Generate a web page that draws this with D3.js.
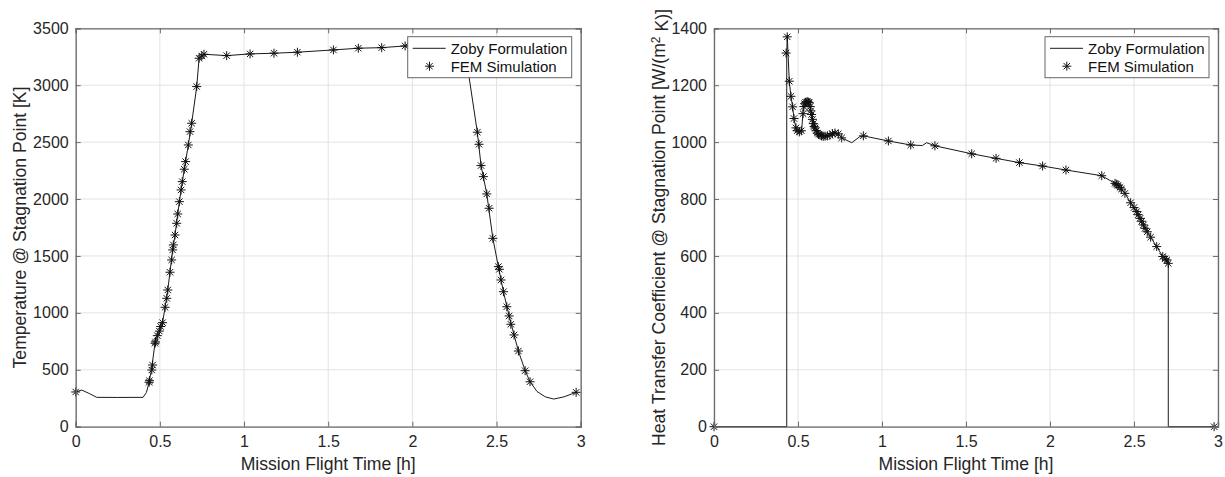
<!DOCTYPE html>
<html>
<head>
<meta charset="utf-8">
<script src="https://cdn.jsdelivr.net/npm/d3@7"></script>
<style>
	html, body { margin: 0; padding: 0; background: #fff; }
	svg { display: block; font-family: "Liberation Sans", Arial, Helvetica, sans-serif; }
	.tick text { fill: #262626; font-size: 16px; }
	.axis-label { fill: #262626; font-size: 17.6px; }
	.legend-text { fill: #111; font-size: 15px; }
</style>
</head>
<body>
<div id="chart"></div>
<script>

///////////////////////////////////////////////////////////////////////////
/////////////////////////////// The data //////////////////////////////////
///////////////////////////////////////////////////////////////////////////

//Shared x axis ticks - mission flight time in hours
var timeTicks = [0, 0.5, 1, 1.5, 2, 2.5, 3];

//Left panel - temperature at stagnation point [K]
var tempTicks = [0, 500, 1000, 1500, 2000, 2500, 3000, 3500];

//Zoby formulation curve [time, temperature]
var zobyTemp = [
	[0, 305], [0.036, 322], [0.08, 292], [0.125, 258], [0.25, 257], [0.40, 258], [0.42, 300],
	[0.437, 395], [0.452, 520], [0.471, 733], [0.485, 800], [0.497, 840], [0.505, 880], [0.516, 914],
	[0.531, 1049], [0.547, 1201], [0.560, 1357], [0.576, 1553], [0.590, 1684], [0.606, 1869],
	[0.626, 2080], [0.645, 2262], [0.669, 2475], [0.689, 2666], [0.719, 2988], [0.733, 3237],
	[0.749, 3257], [0.762, 3272], [0.897, 3260], [1.036, 3275], [1.178, 3281], [1.317, 3290],
	[1.531, 3310], [1.679, 3325], [1.818, 3330], [1.957, 3345], [2.15, 3355], [2.31, 3365],
	[2.337, 3070], [2.386, 2587], [2.408, 2294], [2.442, 2045], [2.478, 1655], [2.511, 1406],
	[2.541, 1186], [2.575, 973], [2.604, 806], [2.630, 665], [2.670, 492], [2.699, 395],
	[2.74, 310], [2.79, 262], [2.84, 243], [2.90, 262], [2.973, 302]
];

//FEM simulation points [time, temperature]
var femTemp = [
	[0, 305], [0.436, 390], [0.438, 404], [0.452, 498], [0.457, 542], [0.471, 733], [0.474, 745],
	[0.485, 800], [0.497, 840], [0.505, 880], [0.516, 914], [0.531, 1049], [0.541, 1128],
	[0.547, 1201], [0.560, 1357], [0.570, 1465], [0.576, 1553], [0.580, 1597], [0.590, 1684],
	[0.600, 1787], [0.606, 1869], [0.616, 1977], [0.626, 2080], [0.633, 2153], [0.645, 2262],
	[0.653, 2329], [0.669, 2475], [0.679, 2592], [0.689, 2666], [0.719, 2988], [0.733, 3237],
	[0.749, 3257], [0.762, 3272], [0.897, 3260], [1.036, 3275], [1.178, 3281], [1.317, 3290],
	[1.531, 3310], [1.679, 3325], [1.818, 3330], [1.957, 3345],
	[2.386, 2587], [2.396, 2481], [2.408, 2294], [2.422, 2197], [2.442, 2045], [2.456, 1919],
	[2.478, 1655], [2.511, 1406], [2.517, 1383], [2.527, 1289], [2.541, 1186], [2.561, 1054],
	[2.575, 973], [2.585, 900], [2.604, 806], [2.630, 665], [2.670, 492], [2.699, 395], [2.973, 302]
];

//Right panel - heat transfer coefficient at stagnation point [W/(m2 K)]
var htcTicks = [0, 200, 400, 600, 800, 1000, 1200, 1400];

//Zoby formulation curve [time, coefficient]
var zobyHtc = [
	[0, 0], [0.433, 0], [0.433, 1310], [0.436, 1376], [0.448, 1214], [0.458, 1161], [0.468, 1124],
	[0.476, 1083], [0.488, 1050], [0.508, 1036], [0.522, 1044], [0.532, 1120], [0.552, 1141],
	[0.567, 1138], [0.581, 1097], [0.601, 1050], [0.631, 1026], [0.661, 1021], [0.690, 1024],
	[0.720, 1032], [0.740, 1029], [0.760, 1015], [0.820, 998], [0.865, 1018], [0.889, 1022],
	[1.038, 1004], [1.171, 990], [1.24, 988], [1.266, 998], [1.315, 987], [1.534, 959],
	[1.679, 943], [1.818, 928], [1.956, 916], [2.095, 902], [2.308, 882], [2.387, 855],
	[2.417, 841], [2.446, 820], [2.480, 787], [2.516, 756], [2.536, 732], [2.556, 709],
	[2.579, 685], [2.599, 666], [2.635, 633], [2.671, 598], [2.695, 586], [2.704, 574],
	[2.704, 0], [2.977, 0]
];

//FEM simulation points [time, coefficient]
var femHtc = [
	[0, 0], [0.429, 1313], [0.436, 1370], [0.448, 1214], [0.458, 1161], [0.468, 1124], [0.476, 1083],
	[0.488, 1050], [0.495, 1040], [0.508, 1036], [0.520, 1040], [0.530, 1100], [0.535, 1125],
	[0.540, 1135], [0.545, 1140], [0.552, 1141], [0.558, 1142], [0.563, 1140], [0.567, 1138],
	[0.572, 1125], [0.576, 1110], [0.581, 1097], [0.586, 1080], [0.591, 1065], [0.596, 1055],
	[0.601, 1050], [0.608, 1040], [0.615, 1032], [0.622, 1028], [0.631, 1026], [0.640, 1022],
	[0.650, 1020], [0.661, 1021], [0.675, 1022], [0.690, 1024], [0.705, 1030], [0.720, 1032],
	[0.740, 1029], [0.760, 1015], [0.889, 1022], [1.038, 1004], [1.171, 990], [1.315, 987],
	[1.534, 959], [1.679, 943], [1.818, 928], [1.956, 916], [2.095, 902], [2.308, 882],
	[2.387, 855], [2.395, 852], [2.405, 848], [2.417, 841], [2.425, 835], [2.446, 820],
	[2.480, 787], [2.500, 770], [2.516, 756], [2.525, 745], [2.536, 732], [2.546, 722],
	[2.556, 709], [2.566, 697], [2.579, 685], [2.599, 666], [2.635, 633], [2.671, 598],
	[2.685, 590], [2.695, 586], [2.704, 574], [2.977, 0]
];

var legendLabels = ["Zoby Formulation", "FEM Simulation"];

///////////////////////////////////////////////////////////////////////////
//////////////////////////// Set up the SVG ///////////////////////////////
///////////////////////////////////////////////////////////////////////////

var width = 1225,
	height = 477;

var svg = d3.select("#chart")
	.append("svg")
	.attr("width", width)
	.attr("height", height);

//Both panels share the same vertical extent
var plotTop = 28.3,
	plotBottom = 426.7;

var axisColor = "#6a6a6a",
	gridColor = "#e3e3e3",
	lineColor = "#1a1a1a";

drawPanel({
	left: 75.7, right: 580.7,
	line: zobyTemp, points: femTemp,
	yDomain: [0, 3500], yTicks: tempTicks,
	label: "Temperature @ Stagnation Point [K]",
	labelX: 25.5
});

drawPanel({
	left: 714, right: 1218,
	line: zobyHtc, points: femHtc,
	yDomain: [0, 1400], yTicks: htcTicks,
	label: "Heat Transfer Coefficient @ Stagnation Point [W/(m",
	labelSup: "2",
	labelEnd: " K)]",
	labelX: 665
});

///////////////////////////////////////////////////////////////////////////
//////////////////////// Function to draw a panel /////////////////////////
///////////////////////////////////////////////////////////////////////////

function drawPanel(opt) {

	var w = opt.right - opt.left,
		h = plotBottom - plotTop;

	var x = d3.scaleLinear().domain([0, 3]).range([0, w]);
	var y = d3.scaleLinear().domain(opt.yDomain).range([h, 0]);

	var g = svg.append("g")
		.attr("transform", "translate(" + opt.left + "," + plotTop + ")");

	//Light grid lines
	g.append("g").selectAll("line.vgrid")
		.data(timeTicks)
		.enter().append("line")
		.attr("x1", function(d) { return x(d); })
		.attr("x2", function(d) { return x(d); })
		.attr("y1", 0).attr("y2", h)
		.style("stroke", gridColor);

	g.append("g").selectAll("line.hgrid")
		.data(opt.yTicks)
		.enter().append("line")
		.attr("y1", function(d) { return y(d); })
		.attr("y2", function(d) { return y(d); })
		.attr("x1", 0).attr("x2", w)
		.style("stroke", gridColor);

	//Clip so nothing spills over the box
	var clipId = "clip-" + Math.round(opt.left);
	g.append("clipPath").attr("id", clipId)
		.append("rect").attr("x", -6).attr("y", -6).attr("width", w + 12).attr("height", h + 12);

	//The Zoby line
	var line = d3.line()
		.x(function(d) { return x(d[0]); })
		.y(function(d) { return y(d[1]); });

	g.append("path")
		.datum(opt.line)
		.attr("clip-path", "url(#" + clipId + ")")
		.attr("d", line)
		.style("fill", "none")
		.style("stroke", lineColor)
		.style("stroke-width", 1);

	//FEM markers as asterisks
	g.append("g").selectAll(".fem")
		.data(opt.points)
		.enter().append("path")
		.attr("class", "fem")
		.attr("transform", function(d) { return "translate(" + x(d[0]) + "," + y(d[1]) + ")"; })
		.attr("d", asterisk(4.5))
		.style("fill", "none")
		.style("stroke", "#111")
		.style("stroke-width", 1);

	//Axes, ticks pointing inwards on all four sides
	var fmt = d3.format("");

	var xAxis = g.append("g")
		.attr("transform", "translate(0," + h + ")")
		.call(d3.axisBottom(x).tickValues(timeTicks).tickFormat(fmt).tickSize(-5).tickPadding(8.8));

	var yAxis = g.append("g")
		.call(d3.axisLeft(y).tickValues(opt.yTicks).tickFormat(fmt).tickSize(-5).tickPadding(7));

	var topAxis = g.append("g")
		.call(d3.axisTop(x).tickValues(timeTicks).tickFormat("").tickSize(-5));

	var rightAxis = g.append("g")
		.attr("transform", "translate(" + w + ",0)")
		.call(d3.axisRight(y).tickValues(opt.yTicks).tickFormat("").tickSize(-5));

	[xAxis, yAxis, topAxis, rightAxis].forEach(function(a) {
		a.selectAll(".domain").style("stroke", axisColor).style("stroke-width", 1.3);
		a.selectAll(".tick line").style("stroke", axisColor);
		a.selectAll(".tick text").style("font-size", "16px").style("fill", "#262626");
	});

	//Axis titles
	svg.append("text")
		.attr("class", "axis-label")
		.attr("x", opt.left + w / 2)
		.attr("y", 470)
		.style("text-anchor", "middle")
		.text("Mission Flight Time [h]");

	var yLabel = svg.append("text")
		.attr("class", "axis-label")
		.attr("transform", "translate(" + opt.labelX + "," + (plotTop + h / 2) + ") rotate(-90)")
		.style("text-anchor", "middle");

	yLabel.append("tspan").text(opt.label);
	if(opt.labelSup) {
		yLabel.append("tspan")
			.attr("dy", "-0.45em")
			.style("font-size", "12px")
			.text(opt.labelSup);
		yLabel.append("tspan")
			.attr("dy", "0.45em")
			.text(opt.labelEnd);
	}//if

	///////////////////////////////////////////////////////////////////////
	//////////////////////////// The legend ///////////////////////////////
	///////////////////////////////////////////////////////////////////////

	var lw = 164, lh = 41;
	var legend = g.append("g")
		.attr("transform", "translate(" + (w - 9 - lw) + ",8.4)");

	legend.append("rect")
		.attr("width", lw).attr("height", lh)
		.style("fill", "#fff")
		.style("stroke", "#666")
		.style("stroke-width", 1);

	legend.append("line")
		.attr("x1", 5).attr("x2", 38)
		.attr("y1", 11.6).attr("y2", 11.6)
		.style("stroke", lineColor)
		.style("stroke-width", 1);

	legend.append("path")
		.attr("transform", "translate(21.8,29.5)")
		.attr("d", asterisk(4.5))
		.style("fill", "none")
		.style("stroke", "#111")
		.style("stroke-width", 1);

	legend.selectAll(".legend-text")
		.data(legendLabels)
		.enter().append("text")
		.attr("class", "legend-text")
		.attr("x", 43)
		.attr("y", function(d, i) { return 17.6 + i * 17.6; })
		.text(function(d) { return d; });

}//function drawPanel

//Path for an 8-ray asterisk marker
function asterisk(r) {
	var k = r * 0.7071;
	return "M" + (-r) + ",0H" + r +
		"M0," + (-r) + "V" + r +
		"M" + (-k) + "," + (-k) + "L" + k + "," + k +
		"M" + (-k) + "," + k + "L" + k + "," + (-k);
}//function asterisk

</script>
</body>
</html>
